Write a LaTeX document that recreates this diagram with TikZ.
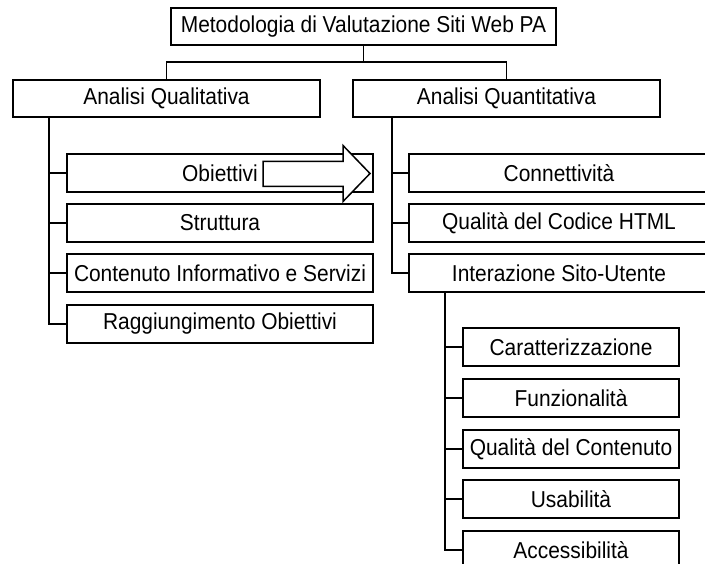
\documentclass[tikz,border=0pt]{standalone}
\usepackage{fontspec}
\setmainfont{Liberation Sans}[FakeStretch=0.91]
\begin{document}
\begin{tikzpicture}[x=1pt,y=-1pt,line width=1.5pt,
  box/.style={draw,fill=white,inner sep=0pt,outer sep=0pt,minimum height=38pt,
    font=\fontsize{23}{27}\selectfont},
  wide/.style={box,minimum width=307pt},
  subl/.style={box,minimum width=306pt},
  subr/.style={box,minimum width=300pt},
  subs/.style={box,minimum width=216pt},
  link/.style={draw,line width=1.5pt}]
\clip (0,0) rectangle (705,564);
\fill[white] (0,0) rectangle (705,564);
% top level
\node[box,minimum width=385pt,minimum height=37pt] (root) at (363.5,26.5) {Metodologia di Valutazione Siti Web PA};
\node[wide,minimum height=37pt] (qual) at (166.5,98.5) {Analisi Qualitativa};
\node[wide,minimum height=37pt] (quant) at (506.5,98.5) {Analisi Quantitativa};
\coordinate (bar) at (363.5,62);
\draw[link] (root.south) -- (bar);
\draw[link] (qual.north) |- (bar) -| (quant.north);
% left branch
\node[subl] (obi) at (220,173) {Obiettivi};
\node[subl] (str) at (220,223) {Struttura};
\node[subl] (con) at (220,273) {Contenuto Informativo e Servizi};
\node[subl] (rag) at (220,324) {Raggiungimento Obiettivi};
\coordinate (ls) at (49,117);
\draw[link] (ls) |- (rag.west);
\foreach \n in {obi,str,con} \draw[link] (\n.west) -- (\n.west -| ls);
% block arrow
\draw[fill=white,line width=1.5pt,line join=miter]
  (263,161.5) -- (343,161.5) -- (343,145.5) -- (370,173.5) -- (343,201.5) -- (343,186.5) -- (263,186.5) -- cycle;
% right branch
\node[subr] (con2) at (559,173) {Connettività};
\node[subr] (html) at (559,223) {Qualità del Codice HTML};
\node[subr] (inter) at (559,273) {Interazione Sito-Utente};
\coordinate (rs) at (392,117);
\draw[link] (rs) |- (inter.west);
\foreach \n in {con2,html} \draw[link] (\n.west) -- (\n.west -| rs);
% sub-branch
\node[subs] (car) at (571,347) {Caratterizzazione};
\node[subs] (fun) at (571,398) {Funzionalità};
\node[subs] (qdc) at (571,449) {Qualità del Contenuto};
\node[subs] (usa) at (571,499) {Usabilità};
\node[subs] (acc) at (571,550) {Accessibilità};
\coordinate (ss) at (445,292);
\draw[link] (ss) |- (acc.west);
\foreach \n in {car,fun,qdc,usa} \draw[link] (\n.west) -- (\n.west -| ss);
\end{tikzpicture}
\end{document}
